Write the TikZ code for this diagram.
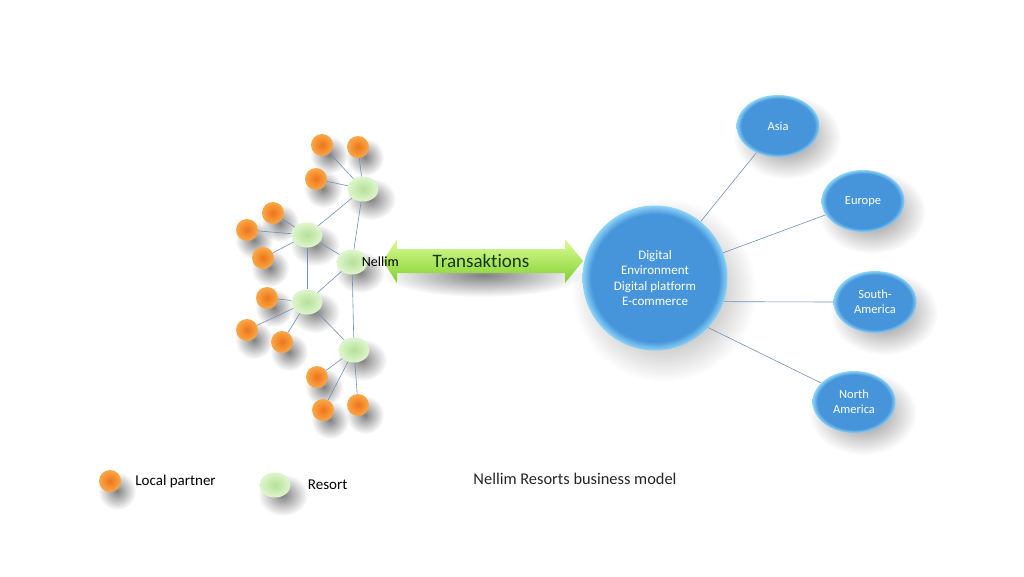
\documentclass[tikz,border=0pt]{standalone}
\usepackage{fontspec}
\setmainfont{Carlito}[Ligatures=NoCommon]
\usetikzlibrary{shapes.geometric, fadings, backgrounds, positioning}

% Colours
\definecolor{partnerIn}{RGB}{238,116,26}
\definecolor{partnerOut}{RGB}{250,168,72}
\definecolor{resortIn}{RGB}{182,224,152}
\definecolor{resortOut}{RGB}{222,246,205}
\definecolor{regionIn}{RGB}{70,148,218}
\definecolor{regionOut}{RGB}{140,212,248}
\definecolor{linkcol}{RGB}{112,146,182}
\definecolor{arrowTop}{RGB}{222,252,150}
\definecolor{arrowMid}{RGB}{186,240,92}
\definecolor{arrowBot}{RGB}{128,208,48}
\definecolor{dealtext}{RGB}{22,56,14}

\pgfdeclareradialshading{rim}{\pgfpoint{0bp}{0bp}}{color(0bp)=(regionIn); color(22bp)=(regionIn); color(25bp)=(regionOut); color(50bp)=(regionOut)}
\tikzfading[name=shadowfade, inner color=transparent!10, outer color=transparent!100]

\tikzset{
  blob/.style={fill=black, fill opacity=0.55, path fading=shadowfade},
  partner/.style={circle, minimum size=22pt, inner sep=0pt, inner color=partnerIn, outer color=partnerOut},
  resort/.style={ellipse, minimum width=31pt, minimum height=25pt, inner sep=0pt, inner color=resortIn, outer color=resortOut},
  region/.style={ellipse, minimum width=83pt, minimum height=62pt, inner sep=0pt, shading=rim, text=white, align=center, font=\fontsize{12.5}{15}\selectfont},
  link/.style={draw=linkcol, line width=0.6pt},
  legend/.style={inner sep=0pt, font=\fontsize{15}{17}\selectfont}
}

\begin{document}
\begin{tikzpicture}[x=1pt, y=-1pt]
  \useasboundingbox (0,0) rectangle (1024,576);

  % Resorts
  \node[resort] (rs1) at (363,189) {};
  \node[resort] (rs2) at (307,235) {};
  \node[resort] (nellim) at (352,262) {};
  \node[resort] (rs3) at (307,302) {};
  \node[resort] (rs4) at (354,350) {};

  % Local partners
  \foreach \n/\px/\py in {1/322/145, 2/358/147, 3/316/179, 4/273/213, 5/247/230, 6/263/258,
                          7/267/298, 8/247/330, 9/282/342, 10/317/377, 11/323/410, 12/358/405}
    \node[partner] (lp\n) at (\px,\py) {};

  % Network links
  \foreach \a/\b in {rs1/lp1, rs1/lp2, rs1/lp3, rs1/rs2, rs1/nellim,
                     rs2/lp4, rs2/lp5, rs2/lp6, rs2/nellim, rs2/rs3,
                     rs3/nellim, rs3/rs4, rs3/lp7, rs3/lp8, rs3/lp9,
                     nellim/rs4, rs4/lp10, rs4/lp11, rs4/lp12}
    \draw[link] (\a) -- (\b);

  % Transaction arrow
  \coordinate (tipL) at (383,261);
  \coordinate (tipR) at (583,261);
  \shade[top color=arrowTop, middle color=arrowMid, bottom color=arrowBot]
    (tipL) -- (397,239) -- (397,249) -- (565,249) -- (565,239) -- (tipR)
    -- (565,283) -- (565,273) -- (397,273) -- (397,283) -- cycle;
  \node[text=dealtext, font=\fontsize{19}{21}\selectfont] (deal) at (481,261) {Transaktions};
  \node[anchor=west, inner sep=0pt, font=\fontsize{14}{16}\selectfont] (nellimlabel)
    at ([xshift=-6pt]nellim.east) {Nellim};

  % Digital hub
  \node[circle, minimum size=145pt, inner sep=0pt, shading=rim, text=white, align=center,
        font=\fontsize{13}{15.5}\selectfont] (dig) at (655,278)
    {Digital\\Environment\\Digital platform\\E-commerce};

  % Regions
  \node[region] (asia) at (778,126) {Asia};
  \node[region] (eur) at (863,201) {Europe};
  \node[region] (sam) at (875,302) {South-\\America};
  \node[region] (nam) at (854,402) {North\\America};

  % Region links
  \draw[link] (dig) -- (asia);
  \draw[link] (dig) -- (eur);
  \draw[link] (dig.-19) -- (sam.west);
  \draw[link] (dig.-43) -- (nam.150);

  % Legend
  \node[partner] (keypartner) at (110,481) {};
  \node[legend, right=14pt of keypartner] (keypartnertext) {Local partner};
  \node[resort] (keyresort) at (275,485) {};
  \node[legend, right=17pt of keyresort] (keyresorttext) {Resort};
  \node[legend, font=\fontsize{16.4}{18}\selectfont, text=black!85] (title) at (575,479)
    {Nellim Resorts business model};

  % Soft shadows
  \begin{scope}[on background layer]
    \fill[white] (0,0) rectangle (1024,576);
    \foreach \n in {rs1, rs2, nellim, rs3, rs4, keyresort}
      \fill[blob] ([shift={(8,10)}]\n.center) ellipse (25 and 21);
    \foreach \n in {lp1, lp2, lp3, lp4, lp5, lp6, lp7, lp8, lp9, lp10, lp11, lp12, keypartner}
      \fill[blob] ([shift={(7,10)}]\n.center) ellipse (19 and 19);
    \foreach \n in {asia, eur, sam, nam}
      \fill[blob] ([shift={(9,11)}]\n.center) ellipse (54 and 42);
    \fill[blob] ([shift={(9,12)}]dig.center) circle (92);
    \fill[blob] ([shift={(2,14)}]deal.center) ellipse (100 and 22);
  \end{scope}
\end{tikzpicture}
\end{document}
